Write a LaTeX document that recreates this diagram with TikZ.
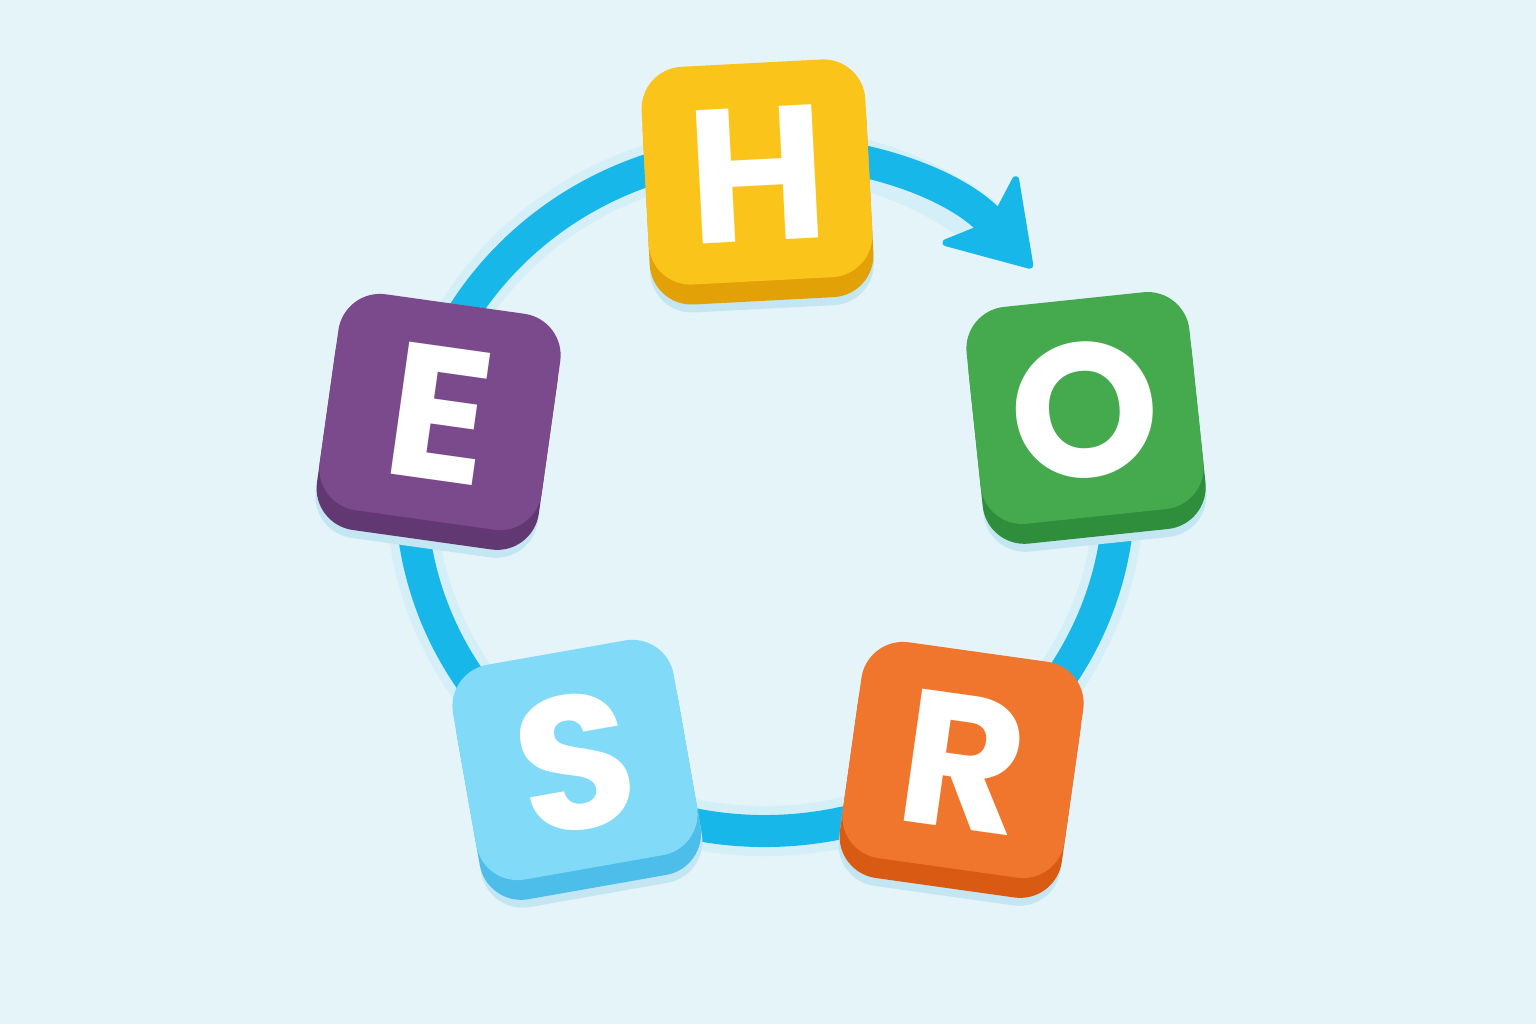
\documentclass[tikz,border=0pt]{standalone}
\usepackage{fontspec}
\usetikzlibrary{arrows.meta}
\newfontfamily\tilefont{Poppins}

\definecolor{bgblue}{HTML}{E4F4F9}
\definecolor{ringblue}{HTML}{18B7E9}
\definecolor{shadeblue}{HTML}{C4E6F2}
\definecolor{hface}{HTML}{FBC41B}
\definecolor{hside}{HTML}{E2A106}
\definecolor{eface}{HTML}{7A4A8C}
\definecolor{eside}{HTML}{623873}
\definecolor{oface}{HTML}{45A94E}
\definecolor{oside}{HTML}{2F8E3B}
\definecolor{rface}{HTML}{F0752D}
\definecolor{rside}{HTML}{D95A12}
\definecolor{sface}{HTML}{80DAF8}
\definecolor{sside}{HTML}{4DBDEA}

% name, x, y, angle, face colour, side colour, letter
\newcommand{\lettertile}[7]{%
  \begin{scope}[shift={(#2,#3)}, rotate=#4, transform shape]
    \node[tileshadow] at (0,-28) {};
    \node[tileside, fill=#6] at (0,-20) {};
    \node[tileface, fill=#5] (#1) at (0,0) {};
    \node[glyph] at (0,-2) {#7};
  \end{scope}}

\begin{document}
\begin{tikzpicture}[x=1pt, y=1pt,
    tilebox/.style={rectangle, rounded corners=42pt, minimum width=224pt,
      minimum height=218pt, inner sep=0pt},
    tileface/.style={tilebox},
    tileside/.style={tilebox},
    tileshadow/.style={tilebox, fill=shadeblue},
    glyph/.style={text=white, inner sep=0pt,
      font=\tilefont\bfseries\fontsize{190}{190}\selectfont},
    ring/.style={draw=ringblue, line width=32pt},
    ringglow/.style={draw=ringblue, line width=50pt, opacity=0.08}]
  \fill[bgblue] (0,0) rectangle (1536,1024);
  \coordinate (ctr) at (765,533);

  % ring and arrow
  \draw[ringglow] ([shift={(10:354 and 340)}]ctr)
    arc [start angle=10, end angle=-310, x radius=354, y radius=340];
  \draw[ring, -{Stealth[length=86pt, width=110pt, inset=20pt, round, line width=7pt]}]
    ([shift={(10:354 and 340)}]ctr)
    arc [start angle=10, end angle=-319, x radius=354, y radius=340];

  % tiles
  \lettertile{htile}{757}{852}{3}{hface}{hside}{H}
  \lettertile{otile}{1085}{616}{6}{oface}{oside}{O}
  \lettertile{rtile}{963}{264}{-8}{rface}{rside}{R}
  \lettertile{stile}{575}{264}{10}{sface}{sside}{S}
  \lettertile{etile}{440}{612}{-8}{eface}{eside}{E}
\end{tikzpicture}
\end{document}
